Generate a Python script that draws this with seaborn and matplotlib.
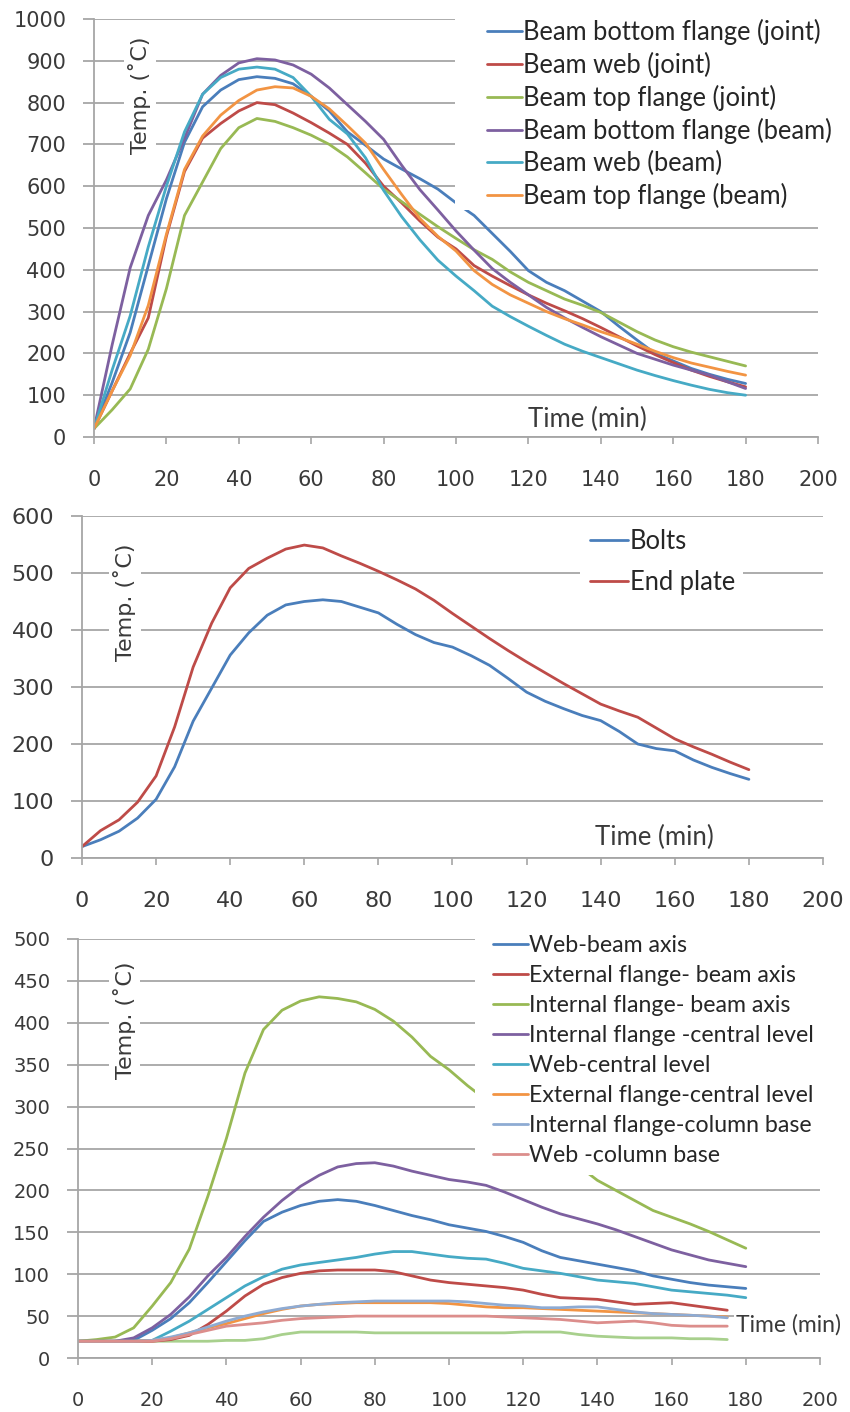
import numpy as np
import pandas as pd
import matplotlib
matplotlib.use("Agg")
import matplotlib.pyplot as plt
from matplotlib.patches import Rectangle
import seaborn as sns

# ---------------- data ----------------
t5 = list(range(0, 181, 5))

top_names = ["Beam bottom flange (joint)", "Beam web (joint)", "Beam top flange (joint)",
             "Beam bottom flange (beam)", "Beam web (beam)", "Beam top flange (beam)"]
top_bottom_joint = [20, 130, 250, 410, 570, 705, 790, 830, 855, 862, 858, 845, 815, 780, 730, 698, 665, 641, 618,
                    593, 560, 530, 487, 444, 398, 370, 350, 325, 300, 265, 232, 200, 182, 164, 150, 138, 128]
top_web_joint = [20, 110, 200, 285, 480, 635, 715, 750, 780, 800, 795, 775, 752, 727, 700, 655, 600, 560, 517,
                 478, 450, 410, 385, 362, 340, 320, 302, 283, 262, 240, 218, 197, 178, 160, 145, 132, 120]
top_top_joint = [20, 65, 115, 210, 355, 530, 610, 690, 740, 762, 755, 740, 722, 700, 670, 632, 593, 563, 533,
                 503, 475, 448, 425, 395, 370, 350, 330, 315, 298, 275, 252, 232, 216, 203, 192, 181, 170]
top_bottom_beam = [20, 220, 405, 530, 615, 715, 820, 865, 895, 905, 902, 890, 868, 835, 795, 755, 712, 650, 592,
                   543, 493, 447, 403, 370, 340, 310, 285, 262, 240, 220, 200, 186, 172, 160, 148, 132, 116]
top_web_beam = [20, 160, 290, 455, 600, 730, 820, 860, 880, 885, 880, 860, 815, 760, 725, 668, 590, 527, 472,
                423, 385, 350, 313, 288, 265, 243, 222, 205, 190, 175, 160, 147, 135, 124, 114, 106, 100]
top_top_beam = [20, 110, 195, 315, 485, 640, 720, 770, 805, 830, 838, 835, 815, 785, 745, 703, 640, 580, 523,
                480, 445, 398, 365, 340, 320, 300, 283, 268, 252, 238, 222, 205, 190, 177, 167, 157, 148]

mid_names = ["Bolts", "End plate"]
mid_bolts = [20, 32, 47, 70, 103, 160, 240, 298, 356, 395, 426, 444, 450, 453, 450, 440, 430, 410, 392,
             378, 370, 355, 338, 315, 291, 275, 262, 250, 241, 222, 200, 192, 188, 172, 159, 148, 138]
mid_endplate = [20, 48, 67, 98, 144, 230, 335, 412, 474, 508, 526, 542, 549, 544, 530, 517, 503, 488, 472,
                452, 429, 407, 385, 364, 344, 325, 306, 288, 270, 258, 247, 228, 209, 195, 182, 168, 155]

bot_names = ["Web-beam axis", "External flange- beam axis", "Internal flange- beam axis",
             "Internal flange -central level", "Web-central level", "External flange-central level",
             "Internal flange-column base", "Web -column base"]
bot_web_beam = [20, 20, 20, 21, 33, 47, 66, 90, 115, 140, 163, 174, 182, 187, 189, 187, 182, 176, 170,
                165, 159, 155, 151, 145, 138, 128, 120, 116, 112, 108, 104, 98, 94, 90, 87, 85, 83]
bot_ext_beam = [20, 20, 20, 20, 20, 22, 27, 40, 56, 74, 88, 96, 101, 104, 105, 105, 105, 103, 98,
                93, 90, 88, 86, 84, 81, 76, 72, 71, 70, 67, 64, 65, 66, 63, 60, 57]
bot_int_beam = [20, 22, 25, 36, 62, 90, 130, 193, 262, 340, 392, 415, 426, 431, 429, 425, 416, 402, 383,
                360, 344, 325, 308, 292, 276, 260, 244, 229, 212, 200, 188, 176, 168, 160, 151, 141, 131]
bot_int_central = [20, 20, 20, 24, 36, 52, 73, 98, 120, 145, 168, 188, 205, 218, 228, 232, 233, 229, 223,
                   218, 213, 210, 206, 198, 189, 180, 172, 166, 160, 153, 145, 137, 129, 123, 117, 113, 109]
bot_web_central = [20, 20, 20, 20, 21, 32, 44, 58, 72, 86, 97, 106, 111, 114, 117, 120, 124, 127, 127,
                   124, 121, 119, 118, 113, 107, 104, 101, 97, 93, 91, 89, 85, 81, 79, 77, 75, 72]
bot_ext_central = [20, 20, 20, 20, 21, 24, 30, 36, 41, 47, 53, 58, 62, 64, 65, 66, 66, 66, 66,
                   66, 65, 63, 61, 60, 60, 59, 58, 57, 56, 55, 54, 53, 52, 51, 50, 49]
bot_int_base = [20, 20, 20, 20, 21, 25, 30, 37, 44, 50, 55, 59, 62, 64, 66, 67, 68, 68, 68,
                68, 68, 67, 65, 63, 62, 60, 60, 61, 61, 58, 55, 53, 52, 51, 50, 48]
bot_web_base = [20, 20, 20, 20, 20, 23, 28, 33, 38, 40, 42, 45, 47, 48, 49, 50, 50, 50, 50,
                50, 50, 50, 50, 49, 48, 47, 46, 44, 42, 43, 44, 42, 39, 38, 38, 38]
bot_extra = [20, 20, 20, 20, 20, 20, 20, 20, 21, 21, 23, 28, 31, 31, 31, 31, 30, 30, 30,
             30, 30, 30, 30, 30, 31, 31, 31, 28, 26, 25, 24, 24, 24, 23, 23, 22]

# ---------------- style ----------------
sns.set_style("white")
plt.rcParams["font.family"] = ["DejaVu Sans"]

C_BLUE = "#4A7EBB"
C_RED = "#BE4B48"
C_GREEN = "#98B954"
C_PURPLE = "#7D60A0"
C_TEAL = "#46AAC5"
C_ORANGE = "#F29443"
C_LBLUE = "#8EABD3"
C_PINK = "#DC8E8C"
C_LGREEN = "#A8D08D"
GRID = "#A6A6A6"
TXT = "#3A3A3A"
LEG_FONT = ["Lato", "DejaVu Sans"]

fig = plt.figure(figsize=(8.5, 14.12), dpi=100)
W, H = 850, 1412


def make_axes(left, right, top, bottom):
    return fig.add_axes([left / W, 1 - bottom / H, (right - left) / W, (bottom - top) / H])


ax1 = make_axes(94, 818, 19, 437)
ax2 = make_axes(82, 823, 516, 858)
ax3 = make_axes(78, 820, 939, 1358)

LW = 2.0


def draw(ax, t, vals, color, label=None):
    df = pd.DataFrame({"t": t[:len(vals)], "T": vals})
    kw = dict(label=label) if label else {}
    sns.lineplot(data=df, x="t", y="T", color=color, lw=LW, ax=ax, zorder=2, **kw)


top_series = [top_bottom_joint, top_web_joint, top_top_joint, top_bottom_beam, top_web_beam, top_top_beam]
top_colors = [C_BLUE, C_RED, C_GREEN, C_PURPLE, C_TEAL, C_ORANGE]
for v, c, n in zip(top_series, top_colors, top_names):
    draw(ax1, t5, v, c, n)

for v, c, n in zip([mid_bolts, mid_endplate], [C_BLUE, C_RED], mid_names):
    draw(ax2, t5, v, c, n)

bot_series = [bot_web_beam, bot_ext_beam, bot_int_beam, bot_int_central, bot_web_central,
              bot_ext_central, bot_int_base, bot_web_base]
bot_colors = [C_BLUE, C_RED, C_GREEN, C_PURPLE, C_TEAL, C_ORANGE, C_LBLUE, C_PINK]
draw(ax3, t5, bot_extra, C_LGREEN)
for v, c, n in zip(bot_series, bot_colors, bot_names):
    draw(ax3, t5, v, c, n)


def style(ax, ymax, ystep, fs, tl_x, tl_y, tl_fs, yl_x, yl_y):
    ax.set_xlim(0, 200)
    ax.set_ylim(0, ymax)
    ax.set_xticks(range(0, 201, 20))
    ax.set_yticks(range(0, ymax + 1, ystep))
    ax.set_xlabel("")
    ax.set_ylabel("")
    ax.yaxis.grid(True, color=GRID, lw=1.3)
    ax.xaxis.grid(False)
    ax.set_axisbelow(True)
    for s in ["top", "right"]:
        ax.spines[s].set_visible(False)
    for s in ["left", "bottom"]:
        ax.spines[s].set_color(GRID)
        ax.spines[s].set_linewidth(1.3)
    ax.tick_params(axis="x", direction="out", length=5, width=1.2, color=GRID, pad=19,
                   labelsize=fs, labelcolor=TXT, bottom=True)
    ax.tick_params(axis="y", direction="out", length=8, width=1.3, color=GRID, pad=12,
                   labelsize=fs, labelcolor=TXT, left=True)
    ax.set_facecolor("white")
    ax.text(tl_x, tl_y, "Time (min)", transform=ax.transAxes, ha="center", va="center",
            fontsize=tl_fs, color=TXT, family=LEG_FONT, zorder=5,
            bbox=dict(facecolor="white", edgecolor="none", pad=1))
    ax.text(yl_x, yl_y, "Temp. (˚C)", transform=ax.transAxes, ha="center", va="center",
            rotation=90, fontsize=16, color=TXT, zorder=5,
            bbox=dict(facecolor="white", edgecolor="none", pad=3))


style(ax1, 1000, 100, 15, 0.681, 0.041, 18.5, 0.0635, 0.818)
style(ax2, 600, 100, 16, 0.773, 0.061, 18.5, 0.058, 0.749)
style(ax3, 500, 50, 14, 0.957, 0.079, 16.5, 0.063, 0.807)


def cover(ax, x0, y0, x1, y1):
    ax.add_patch(Rectangle((x0, y0), x1 - x0, y1 - y0, transform=ax.transAxes,
                           facecolor="white", edgecolor="none", clip_on=False, zorder=3))


cover(ax1, 0.4986, 0.543, 1.06, 1.03)
cover(ax2, 0.672, 0.754, 0.892, 0.985)
cover(ax3, 0.535, 0.437, 1.06, 1.03)


def legend(ax, x, y, spacing, hl, size):
    leg = ax.legend(loc="upper left", bbox_to_anchor=(x, y), bbox_transform=fig.transFigure,
                    frameon=False, borderpad=0, borderaxespad=0, handlelength=hl, handletextpad=0.05,
                    labelspacing=spacing, prop=dict(family=LEG_FONT, size=size))
    leg.set_zorder(6)
    for txt in leg.get_texts():
        txt.set_color("#262626")
    return leg


legend(ax1, 487 / W, 1 - 19 / H, 0.27, 1.35, 18.4)
legend(ax2, 590 / W, 1 - 529 / H, 0.62, 1.5, 18.4)
legend(ax3, 493 / W, 1 - 935 / H, 0.39, 1.5, 16.7)

fig.savefig("out.png", dpi=100, facecolor="white")
